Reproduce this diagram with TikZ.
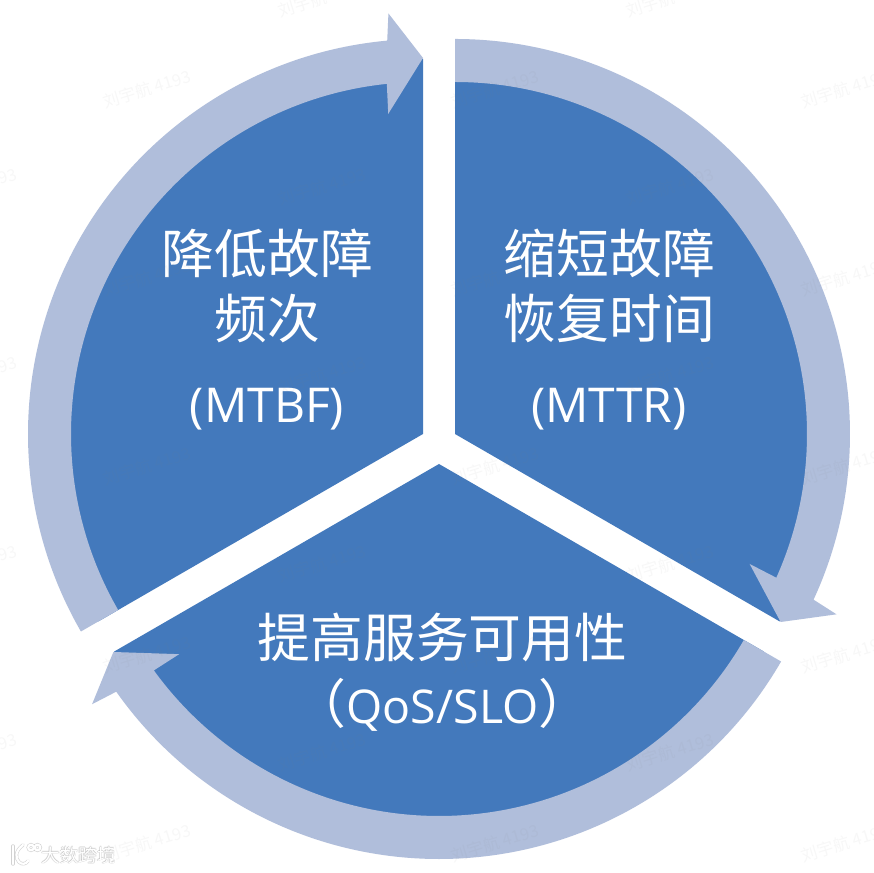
\documentclass[tikz,border=0pt]{standalone}
\usepackage{fontspec}
\setmainfont{Open Sans}
\newfontfamily\cjk{Noto Sans CJK SC}
\newfontfamily\lat{Open Sans}
\definecolor{secblue}{HTML}{4379BC}
\definecolor{ringblue}{HTML}{B0BEDB}
\newcommand{\ringarrow}[2]{%
  \fill[ringblue] (#1)++(#2:395pt) arc[start angle=#2,end angle=#2-114.8,radius=395pt]
    -- ($(#1)+(#2-115.3:422pt)$) -- ($(#1)+(#2-120:376pt)$) -- ($(#1)+(#2-113.8:322pt)$)
    -- ($(#1)+(#2-114.1:352pt)$) arc[start angle=#2-114.1,end angle=#2,radius=352pt] -- cycle;}
\newcommand{\sector}[2]{%
  \fill[secblue] (#1) -- ++(#2:375pt) arc[start angle=#2,end angle=#2-120,radius=375pt] -- cycle;}
\usetikzlibrary{calc}
\tikzset{
  cjkbig/.style={text=white,anchor=base,inner sep=0pt,font=\cjk\fontsize{52.8}{60}\selectfont},
  latbig/.style={text=white,anchor=base,inner sep=0pt,font=\lat\fontsize{48}{56}\selectfont},
  wmark/.style={text=black!50,opacity=0.06,rotate=17,inner sep=0pt,font=\cjk\fontsize{16.5}{18}\selectfont},
  logotext/.style={inner sep=0pt,font=\cjk\fontsize{18.5}{20}\selectfont},
  logoback/.style={draw=black!35,line width=3.4pt,line cap=round,opacity=0.5},
  logofront/.style={draw=white,line width=2.2pt,line cap=round}
}
\begin{document}
\begin{tikzpicture}[x=1pt,y=1pt]
\useasboundingbox (0,0) rectangle (874,872);
\fill[white] (0,0) rectangle (874,872);
\coordinate (cR) at (455,438);
\coordinate (cL) at (423,438);
\coordinate (cB) at (439,408);
\sector{cL}{210}
\sector{cR}{90}
\sector{cB}{330}
\ringarrow{cL}{210}
\ringarrow{cR}{90}
\ringarrow{cB}{330}
% text
\node[cjkbig] (t1a) at (267.5,598) {降低故障};
\node[cjkbig] (t1b) at (267.5,533) {频次};
\node[latbig] (t1c) at (267,449) {(MTBF)};
\node[cjkbig] (t2a) at (609.5,598) {缩短故障};
\node[cjkbig] (t2b) at (609.5,533) {恢复时间};
\node[latbig] (t2c) at (609,449) {(MTTR)};
\node[cjkbig] (t3a) at (442.5,214) {提高服务可用性};
\node[text=white,anchor=base,inner sep=0pt] (t3b) at (442.5,149)
  {\cjk\fontsize{52.8}{60}\selectfont （\lat\fontsize{46.5}{52}\selectfont QoS/SLO\cjk\fontsize{52.8}{60}\selectfont ）};
% watermarks
\foreach \cx/\off in {-27/1,147/0,322/1,495/0,670/1,845/0}{
  \foreach \ry in {0,1,2,3,4}{
    \pgfmathsetmacro{\wy}{872-(\off==1 ? 0-2+188.5*\ry : 89+188.5*\ry)}
    \node[wmark] (wm\cx\ry) at (\cx,\wy) {刘宇航 4193};
  }
}
% logo
\foreach \dx/\dy in {-0.8/0,0.8/0,0/-0.8,0/0.8}{
  \node[logotext,text=black!40,opacity=0.3] (lg\dx\dy) at (78.5+\dx,17+\dy) {大数跨境};
}
\node[logotext,text=white] (lgmain) at (78.5,17) {大数跨境};
\foreach \st in {logoback,logofront}{
  \draw[\st] (13,26) -- (13,8);
  \draw[\st] (23,27) .. controls (15,21) and (15,14) .. (19,10) .. controls (22,7) and (26,8) .. (28,11);
  \draw[\st] (31,24.5) circle[radius=2.8pt];
  \draw[\st] (37.5,24.5) circle[radius=2.8pt];
}
\end{tikzpicture}
\end{document}
